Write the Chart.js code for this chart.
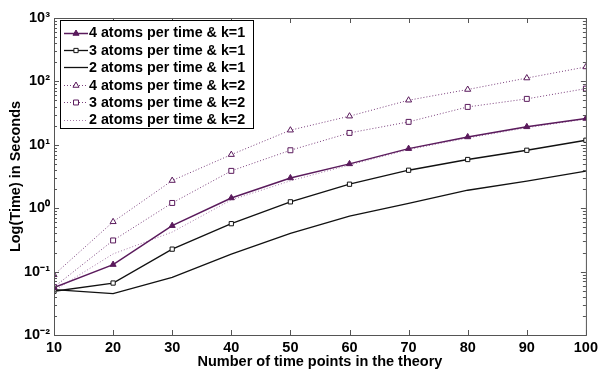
<!DOCTYPE html>
<html>
<head>
<meta charset="utf-8">
<script src="https://cdn.jsdelivr.net/npm/chart.js@4/dist/chart.umd.min.js"></script>
<style>
    html, body { margin: 0; padding: 0; background: #fff; }
    #wrap { width: 602px; height: 373px; }
</style>
</head>
<body>
<div id="wrap"><canvas id="chart-line"></canvas></div>
<script>
const timePoints = [10, 20, 30, 40, 50, 60, 70, 80, 90, 100]

const atoms4k1 = [0.056, 0.129, 0.53, 1.45, 3.0, 5.0, 8.7, 13.3, 19.2, 26]
const atoms3k1 = [0.049, 0.066, 0.226, 0.57, 1.26, 2.39, 3.97, 5.86, 8.2, 11.8]
const atoms2k1 = [0.052, 0.045, 0.081, 0.188, 0.40, 0.75, 1.19, 1.92, 2.67, 3.83]
const atoms4k2 = [0.089, 0.61, 2.73, 7.0, 17, 28.3, 50.5, 74.5, 113, 169]
const atoms3k2 = [0.057, 0.31, 1.21, 3.88, 8.2, 15.4, 23, 39.6, 53, 77]
const atoms2k2 = [0.05, 0.19, 0.42, 1.35, 2.7, 4.8, 8.4, 12.8, 18.6, 25.5]

const seriesNames = [
    '4 atoms per time & k=1',
    '3 atoms per time & k=1',
    '2 atoms per time & k=1',
    '4 atoms per time & k=2',
    '3 atoms per time & k=2',
    '2 atoms per time & k=2'
]

const yTicks = [0.01, 0.1, 1, 10, 100, 1000]
const yTickLabels = ['10\u207B\u00B2', '10\u207B\u00B9', '10\u2070', '10\u00B9', '10\u00B2', '10\u00B3']

const purple = '#5a1a5c'
const purpleDot = '#7a3f7c'
const purpleLight = '#a67aa8'

const font = 'Arial, "Liberation Sans", sans-serif'

// box, inward ticks and in-plot legend, drawn like the original figure
const boxTicks = {
    id: 'boxTicks',
    afterDraw(chart) {
        const ctx = chart.ctx
        const a = chart.chartArea
        const x = chart.scales.x
        const y = chart.scales.y
        ctx.save()
        ctx.strokeStyle = '#555'
        ctx.lineWidth = 1
        ctx.strokeRect(a.left + 0.5, a.top + 0.5, a.right - a.left, a.bottom - a.top)

        ctx.beginPath()
        timePoints.forEach(v => {
            const px = Math.round(x.getPixelForValue(v)) + 0.5
            ctx.moveTo(px, a.bottom); ctx.lineTo(px, a.bottom - 5)
            ctx.moveTo(px, a.top); ctx.lineTo(px, a.top + 5)
        })
        for (let d = -2; d < 3; d++) {
            for (let m = 1; m < 10; m++) {
                const py = Math.round(y.getPixelForValue(m * Math.pow(10, d))) + 0.5
                const len = m === 1 ? 5 : 3
                ctx.moveTo(a.left, py); ctx.lineTo(a.left + len, py)
                ctx.moveTo(a.right, py); ctx.lineTo(a.right - len, py)
            }
        }
        ctx.stroke()

        // legend
        const lx = 60, ly = 20, lw = 193, lh = 108
        ctx.fillStyle = '#fff'
        ctx.fillRect(lx, ly, lw, lh)
        ctx.strokeStyle = '#000'
        ctx.strokeRect(lx + 0.5, ly + 0.5, lw, lh)
        ctx.font = 'bold 14.3px ' + font
        ctx.textBaseline = 'middle'
        chart.data.datasets.forEach((ds, i) => {
            const ry = ly + 12.5 + i * 17.4
            ctx.strokeStyle = ds.borderColor
            ctx.lineWidth = ds.borderWidth
            ctx.setLineDash(ds.borderDash || [])
            ctx.beginPath()
            ctx.moveTo(64, Math.round(ry) + 0.5)
            ctx.lineTo(88, Math.round(ry) + 0.5)
            ctx.stroke()
            ctx.setLineDash([])
            if (ds.pointRadius > 0) {
                ctx.lineWidth = 1
                ctx.fillStyle = ds.pointBackgroundColor
                ctx.strokeStyle = ds.pointBorderColor
                Chart.helpers.drawPoint(ctx, {
                    pointStyle: ds.pointStyle,
                    radius: ds.pointRadius,
                    borderWidth: 1
                }, 76, Math.round(ry) + 0.5)
            }
            ctx.fillStyle = '#000'
            ctx.fillText(ds.label, 89, ry + 1)
        })
        ctx.restore()
    }
}

function LineChart() {
    let line = document.getElementById('chart-line')

    new Chart(line, {
        type: 'line',
        data: {
            labels: timePoints,
            datasets: [
                {
                    label: seriesNames[0],
                    data: atoms4k1,
                    borderColor: purple,
                    borderWidth: 1.5,
                    pointStyle: 'triangle',
                    pointRadius: 3.5,
                    pointBackgroundColor: purple,
                    pointBorderColor: purple,
                    pointBorderWidth: 1
                },
                {
                    label: seriesNames[1],
                    data: atoms3k1,
                    borderColor: '#111',
                    borderWidth: 1.3,
                    pointStyle: 'rect',
                    pointRadius: 3,
                    pointBackgroundColor: '#fff',
                    pointBorderColor: '#111',
                    pointBorderWidth: 1
                },
                {
                    label: seriesNames[2],
                    data: atoms2k1,
                    borderColor: '#111',
                    borderWidth: 1.3,
                    pointRadius: 0
                },
                {
                    label: seriesNames[3],
                    data: atoms4k2,
                    borderColor: purpleDot,
                    borderWidth: 1,
                    borderDash: [1, 2],
                    pointStyle: 'triangle',
                    pointRadius: 3.5,
                    pointBackgroundColor: '#fff',
                    pointBorderColor: purple,
                    pointBorderWidth: 1
                },
                {
                    label: seriesNames[4],
                    data: atoms3k2,
                    borderColor: purpleDot,
                    borderWidth: 1,
                    borderDash: [1, 2],
                    pointStyle: 'rect',
                    pointRadius: 3.5,
                    pointBackgroundColor: '#fff',
                    pointBorderColor: purple,
                    pointBorderWidth: 1
                },
                {
                    label: seriesNames[5],
                    data: atoms2k2,
                    borderColor: purpleLight,
                    borderWidth: 1,
                    borderDash: [1, 2],
                    pointRadius: 0
                }
            ]
        },
        options: {
            responsive: true,
            maintainAspectRatio: false,
            animation: false,
            layout: { padding: { top: 18, right: 11, left: 0, bottom: 0 } },
            scales: {
                x: {
                    type: 'linear',
                    min: 10,
                    max: 100,
                    afterBuildTicks: s => { s.ticks = timePoints.map(v => ({ value: v })) },
                    afterFit: s => { s.height = 38 },
                    ticks: {
                        color: '#000',
                        padding: 4,
                        maxRotation: 0,
                        font: { family: font, size: 14.5, weight: 'bold' }
                    },
                    border: { display: false },
                    grid: { display: false, drawTicks: false },
                    title: {
                        display: true,
                        text: 'Number of time points in the theory',
                        color: '#000',
                        padding: { top: 0, bottom: 2 },
                        font: { family: font, size: 14.5, weight: 'bold' }
                    }
                },
                y: {
                    type: 'logarithmic',
                    min: 0.01,
                    max: 1000,
                    afterBuildTicks: s => { s.ticks = yTicks.map(v => ({ value: v })) },
                    afterFit: s => { s.width = 54 },
                    ticks: {
                        color: '#000',
                        padding: 4,
                        font: { family: font, size: 14.5, weight: 'bold' },
                        callback: (v) => yTickLabels[yTicks.indexOf(v)]
                    },
                    border: { display: false },
                    grid: { display: false, drawTicks: false },
                    title: {
                        display: true,
                        text: 'Log(Time) in Seconds',
                        color: '#000',
                        padding: { top: 7, bottom: 0 },
                        font: { family: font, size: 14.5, weight: 'bold' }
                    }
                }
            },
            plugins: {
                legend: { display: false },
                title: { display: false },
                tooltip: { enabled: false }
            }
        },
        plugins: [boxTicks]
    })
}

LineChart()
</script>
</body>
</html>
